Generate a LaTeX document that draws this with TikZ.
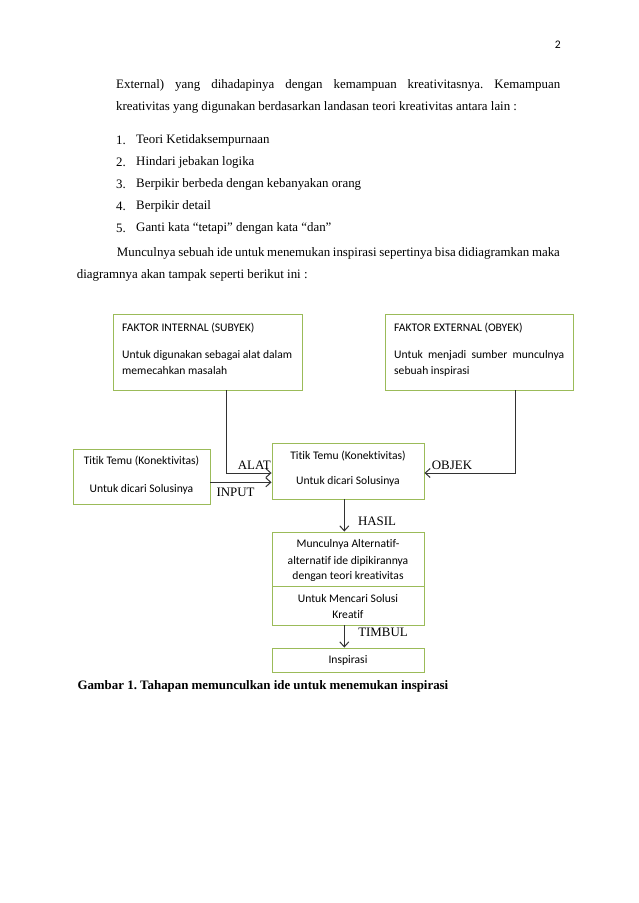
\documentclass[tikz,border=0pt]{standalone}
\usepackage{fontspec}
\setmainfont{Liberation Serif}
\newfontfamily\calfont[Ligatures=NoCommon]{Carlito}
\usetikzlibrary{arrows.meta}
\definecolor{boxgreen}{RGB}{155,187,89}
\definecolor{arrgray}{RGB}{50,50,50}
\frenchspacing
\begin{document}
\begin{tikzpicture}[x=1pt,y=-1pt,
  gbox/.style={draw=boxgreen, line width=0.9pt, rectangle, inner sep=0pt},
  body/.style={font=\fontsize{12.9}{15}\selectfont, inner sep=0pt, anchor=west},
  lbl/.style={font=\fontsize{12.9}{15}\selectfont, inner sep=0pt},
  btext/.style={font=\calfont\fontsize{11.6}{14}\selectfont, inner sep=0pt, anchor=west},
  ctext/.style={font=\calfont\fontsize{11.6}{14}\selectfont, inner sep=0pt},
  arr/.style={draw=arrgray, line width=1pt, -{Straight Barb[length=5pt,width=9pt]}}]
\useasboundingbox (0,0) rectangle (638,903);
\fill[white] (0,0) rectangle (638,903);

% page text
\node[ctext] (pnum) at (557.7,45) {2};
\node[body] (l1) at (116,85) {\makebox[444pt][s]{External) yang dihadapinya dengan kemampuan kreativitasnya. Kemampuan}};
\node[body] (l2) at (116,107.3) {kreativitas yang digunakan berdasarkan landasan teori kreativitas antara lain :};
\node[body] (n1) at (116,140) {1.};
\node[body] (t1) at (136,140) {Teori Ketidaksempurnaan};
\node[body] (n2) at (116,162.3) {2.};
\node[body] (t2) at (136,162.3) {Hindari jebakan logika};
\node[body] (n3) at (116,184.3) {3.};
\node[body] (t3) at (136,184.3) {Berpikir berbeda dengan kebanyakan orang};
\node[body] (n4) at (116,206.7) {4.};
\node[body] (t4) at (136,206.7) {Berpikir detail};
\node[body] (n5) at (116,228.3) {5.};
\node[body] (t5) at (136,228.3) {Ganti kata “tetapi” dengan kata “dan”};
\node[body] (p1) at (116.7,253.3) {\makebox[443pt][s]{Munculnya sebuah ide untuk menemukan inspirasi sepertinya bisa didiagramkan maka}};
\node[body] (p2) at (76.7,275.7) {diagramnya akan tampak seperti berikut ini :};

% boxes
\node[gbox, minimum width=189pt, minimum height=76pt] (fint) at (207.5,352) {};
\node[gbox, minimum width=188pt, minimum height=76pt] (fext) at (479,352) {};
\node[gbox, minimum width=137pt, minimum height=55pt] (tleft) at (141.5,476.5) {};
\node[gbox, minimum width=152pt, minimum height=56pt] (tmid) at (348,471) {};
\node[gbox, minimum width=152pt, minimum height=54pt] (munc1) at (348,559) {};
\node[gbox, minimum width=152pt, minimum height=39pt] (munc2) at (348,605.5) {};
\node[gbox, minimum width=152pt, minimum height=24pt] (insp) at (348,660) {};

% box texts
\node[btext] (fi1) at (122,328) {FAKTOR INTERNAL (SUBYEK)};
\node[btext] (fi2) at (122,355) {Untuk digunakan sebagai alat dalam};
\node[btext] (fi3) at (122,371) {memecahkan masalah};
\node[btext] (fe1) at (394,328) {FAKTOR EXTERNAL (OBYEK)};
\node[btext] (fe2) at (394,355) {\makebox[170pt][s]{Untuk menjadi sumber munculnya}};
\node[btext] (fe3) at (394,371) {sebuah inspirasi};
\node[ctext] (tl1) at (141.5,461.3) {Titik Temu (Konektivitas)};
\node[ctext] (tl2) at (141.5,489) {Untuk dicari Solusinya};
\node[ctext] (tm1) at (348,455.7) {Titik Temu (Konektivitas)};
\node[ctext] (tm2) at (348,481.7) {Untuk dicari Solusinya};
\node[ctext] (mu1) at (348,544) {Munculnya Alternatif-};
\node[ctext] (mu2) at (348,561) {alternatif ide dipikirannya};
\node[ctext] (mu3) at (348,576) {dengan teori kreativitas};
\node[ctext] (mu4) at (348,598.3) {Untuk Mencari Solusi};
\node[ctext] (mu5) at (348,614.3) {Kreatif};
\node[ctext] (in1) at (348,660) {Inspirasi};

% connectors
\coordinate (alatc) at (226.5,473);
\coordinate (inpc) at (210,482.3);
\coordinate (objc) at (515.5,473);
\coordinate (hasc) at (344.3,499);
\draw[arr] (fint.south -| alatc) -- (alatc) -- (tmid.west |- alatc);
\draw[arr] (tleft.east |- inpc) -- (tmid.west |- inpc);
\draw[arr] (fext.south -| objc) -- (objc) -- (tmid.east |- objc);
\draw[arr] (tmid.south -| hasc) -- (munc1.north -| hasc);
\draw[arr] (munc2.south -| hasc) -- (insp.north -| hasc);

% labels
\node[lbl] (lalat) at (254.3,465) {ALAT};
\node[lbl] (linput) at (235.5,492.7) {INPUT};
\node[lbl] (lobjek) at (452,465) {OBJEK};
\node[lbl] (lhasil) at (377,521.7) {HASIL};
\node[lbl] (ltimbul) at (383,632) {TIMBUL};

% caption
\node[body, font=\bfseries\fontsize{12.9}{15}\selectfont] (cap) at (77.3,686.7) {Gambar 1. Tahapan memunculkan ide untuk menemukan inspirasi};
\end{tikzpicture}
\end{document}
